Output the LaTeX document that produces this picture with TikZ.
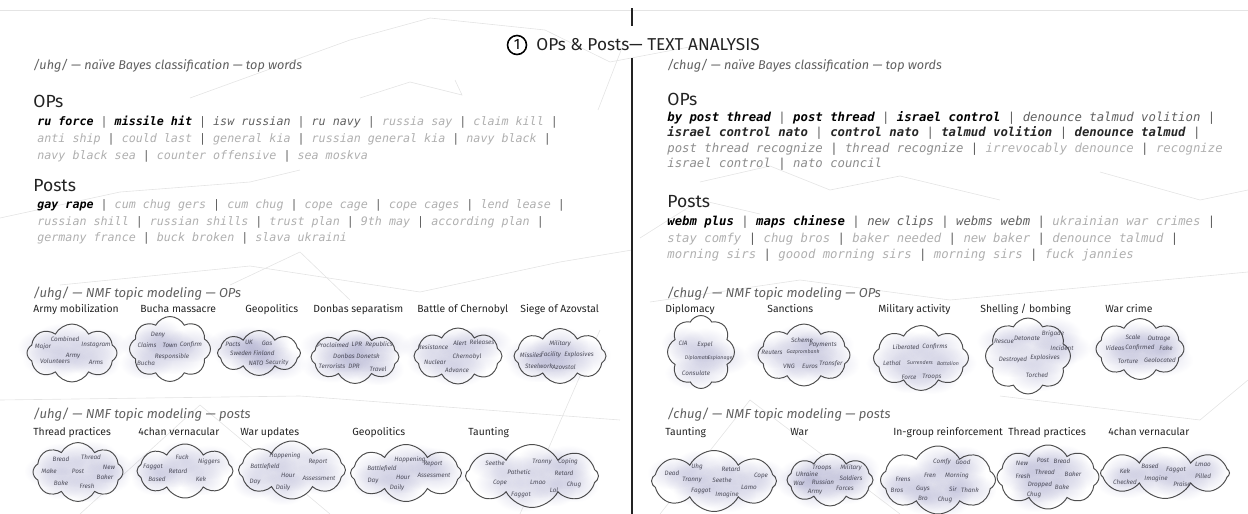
\documentclass[tikz,border=0pt]{standalone}
\usepackage{fontspec}
\setmainfont{Fira Sans}
\setmonofont{DejaVu Sans Mono}
\usetikzlibrary{positioning, shapes.symbols, fadings}

\definecolor{inkdark}{RGB}{35,35,35}
\definecolor{inkmid}{RGB}{95,95,95}
\definecolor{inksoft}{RGB}{140,140,140}
\definecolor{inklight}{RGB}{175,175,175}
\definecolor{wordgray}{RGB}{80,80,92}
\definecolor{glow}{RGB}{210,210,230}
\definecolor{netline}{RGB}{228,228,228}

\tikzfading[name=glowfade, inner color=transparent!30, outer color=transparent!100]

\newcommand{\wsep}{\textcolor{inkmid}{\ |\ }}
\newcommand{\wend}{\textcolor{inkmid}{\ |}}
\newcommand{\wbold}[1]{\textcolor{black}{\bfseries #1}}
\newcommand{\wdark}[1]{\textcolor{black!85}{\bfseries #1}}
\newcommand{\wmid}[1]{\textcolor{inkmid}{#1}}
\newcommand{\wsoft}[1]{\textcolor{inksoft}{#1}}

\begin{document}
\begin{tikzpicture}[x=0.02cm, y=-0.02cm]
	\tikzstyle{net}=[draw=netline, line width=0.35pt]
	\tikzstyle{divider}=[draw=inkdark, line width=0.8pt]
	\tikzstyle{subhead}=[anchor=base west, inner sep=0pt, text=inkmid, font=\itshape\fontsize{7.2}{8}\selectfont]
	\tikzstyle{nmfhead}=[subhead, font=\itshape\fontsize{7.4}{9}\selectfont]
	\tikzstyle{head}=[anchor=base west, inner sep=0pt, text=inkdark, font=\fontsize{10}{12}\selectfont]
	\tikzstyle{wordsl}=[anchor=base west, inner sep=0pt, text=inklight, font=\ttfamily\itshape\fontsize{6.65}{8}\selectfont]
	\tikzstyle{wordsr}=[wordsl, font=\ttfamily\itshape\fontsize{7}{8}\selectfont]
	\tikzstyle{topic}=[anchor=base west, inner sep=0pt, text=inkdark, font=\fontsize{5.9}{7}\selectfont]
	\tikzstyle{topiccloud}=[cloud, cloud puffs=8, cloud puff arc=125, cloud ignores aspect, draw=inkdark!80, line width=0.55pt, fill=white, inner sep=0pt]
	\tikzstyle{word}=[text=wordgray, font=\itshape\fontsize{3.6}{4}\selectfont, inner xsep=10pt, inner ysep=8pt, preaction={fill=glow, path fading=glowfade, blend mode=multiply}]
	\tikzstyle{smallword}=[word, font=\itshape\fontsize{3}{3.5}\selectfont]
	
	\useasboundingbox (0,0) rectangle (1248,514);
	
	% faint network in the background
	\draw[net] (0,10) -- (1248,10);
	\draw[net] (190,98) -- (350,40) -- (430,18) -- (545,30) -- (610,62) -- (700,45);
	\draw[net] (360,98) -- (410,82) -- (462,95) -- (455,80);
	\draw[net] (598,110) -- (625,40);
	\draw[net] (0,218) -- (120,192) -- (250,182) -- (300,170);
	\draw[net] (60,285) -- (250,266) -- (420,292) -- (560,262) -- (632,250);
	\draw[net] (230,285) -- (300,252) -- (350,300);
	\draw[net] (640,238) -- (700,200) -- (760,214);
	\draw[net] (700,182) -- (770,166) -- (830,190) -- (900,176) -- (1000,200);
	\draw[net] (1100,172) -- (1200,200) -- (1248,190);
	\draw[net] (650,302) -- (800,280) -- (950,300) -- (1248,272);
	\draw[net] (0,400) -- (300,396) -- (620,420);
	\draw[net] (80,514) -- (200,405) -- (330,514);
	\draw[net] (600,330) -- (520,514);
	\draw[net] (660,514) -- (750,400) -- (900,514);
	\draw[net] (1000,396) -- (1200,420) -- (1248,380);
	
	% title and divider
	\coordinate (divtop) at (632,8);
	\coordinate (divmid) at (632,26);
	\coordinate (divlow) at (632,58);
	\coordinate (divbot) at (632,514);
	\draw[divider] (divtop) -- (divmid);
	\draw[divider] (divlow) -- (divbot);
	\node[draw, circle, line width=0.9pt, minimum size=0.38cm, inner sep=0pt, font=\fontsize{8.5}{8.5}\selectfont] (num) at (517,45) {1};
	\node[right=5pt of num, inner sep=0pt, text=inkdark, font=\fontsize{9.8}{11}\selectfont] (title) {OPs \& Posts— TEXT ANALYSIS};
	
	% /uhg/ naive Bayes
	\node[subhead] (ubayes) at (33,69) {/uhg/ — naïve Bayes classification — top words};
	\node[head] (uops) at (33,107) {OPs};
	\node[wordsl] (uops1) at (37,125.5) {\wbold{ru force}\wsep\wbold{missile hit}\wsep\wmid{isw russian}\wsep\wmid{ru navy}\wsep russia say\wsep claim kill\wend};
	\node[wordsl] (uops2) at (37,142.5) {anti ship\wsep could last\wsep general kia\wsep russian general kia\wsep navy black\wend};
	\node[wordsl] (uops3) at (37,159.5) {navy black sea\wsep counter offensive\wsep sea moskva};
	\node[head] (uposts) at (33,191) {Posts};
	\node[wordsl] (uposts1) at (37,208.5) {\wbold{gay rape}\wsep cum chug gers\wsep cum chug\wsep cope cage\wsep cope cages\wsep lend lease\wend};
	\node[wordsl] (uposts2) at (37,225.5) {russian shill\wsep russian shills\wsep trust plan\wsep 9th may\wsep according plan\wend};
	\node[wordsl] (uposts3) at (37,241.5) {germany france\wsep buck broken\wsep slava ukraini};
	
	% /chug/ naive Bayes
	\node[subhead] (cbayes) at (667,69) {/chug/ — naïve Bayes classification — top words};
	\node[head] (cops) at (667,105) {OPs};
	\node[wordsr] (cops1) at (667,121.5) {\wbold{by post thread}\wsep\wbold{post thread}\wsep\wbold{israel control}\wsep\wmid{denounce talmud volition}\wend};
	\node[wordsr] (cops2) at (667,136.5) {\wdark{israel control nato}\wsep\wdark{control nato}\wsep\wdark{talmud volition}\wsep\wdark{denounce talmud}\wend};
	\node[wordsr] (cops3) at (667,152.5) {\wsoft{post thread recognize}\wsep\wsoft{thread recognize}\wsep irrevocably denounce\wsep recognize};
	\node[wordsr] (cops4) at (667,167.5) {\wsoft{israel control}\wsep\wsoft{nato council}};
	\node[head] (cposts) at (667,207) {Posts};
	\node[wordsr] (cposts1) at (667,225.5) {\wbold{webm plus}\wsep\wbold{maps chinese}\wsep\wmid{new clips}\wsep\wmid{webms webm}\wsep ukrainian war crimes\wend};
	\node[wordsr] (cposts2) at (667,242) {stay comfy\wsep chug bros\wsep baker needed\wsep new baker\wsep denounce talmud\wend};
	\node[wordsr] (cposts3) at (667,258.5) {morning sirs\wsep goood morning sirs\wsep morning sirs\wsep fuck jannies};
	
	% /uhg/ NMF OPs
	\node[nmfhead] (unmfo) at (33,297) {/uhg/ — NMF topic modeling — OPs};
	\node[topic] (uo1t) at (33,312.5) {Army mobilization};
	\node[topic] (uo2t) at (140,312.5) {Bucha massacre};
	\node[topic] (uo3t) at (245,312.5) {Geopolitics};
	\node[topic] (uo4t) at (313,312.5) {Donbas separatism};
	\node[topic] (uo5t) at (417,312.5) {Battle of Chernobyl};
	\node[topic] (uo6t) at (520,312.5) {Siege of Azovstal};
	\node[topiccloud, minimum width=1.8cm, minimum height=1.16cm] (uo1) at (72,353) {};
	\node[word] (uo1a) at (65,339) {Combined}; \node[word] (uo1b) at (96,345) {Instagram}; \node[word] (uo1c) at (43,347) {Major};
	\node[word] (uo1d) at (73,356) {Army}; \node[word] (uo1e) at (55,361) {Volunteers}; \node[word] (uo1f) at (96,362) {Arms};
	\node[topiccloud, minimum width=1.62cm, minimum height=1.3cm] (uo2) at (170,349) {};
	\node[word] (uo2a) at (158,335) {Deny}; \node[word] (uo2b) at (147,345) {Claims}; \node[word] (uo2c) at (170,345) {Town};
	\node[word] (uo2d) at (191,345) {Confirm}; \node[word] (uo2e) at (172,357) {Responsible}; \node[word] (uo2f) at (146,363) {Bucha};
	\node[topiccloud, minimum width=1.66cm, minimum height=0.9cm] (uo3) at (259,353) {};
	\node[word] (uo3a) at (233,344) {Pacts}; \node[word] (uo3b) at (249,342) {UK}; \node[word] (uo3c) at (267,343) {Gas};
	\node[word] (uo3d) at (241,353) {Sweden}; \node[word] (uo3e) at (264,353) {Finland}; \node[word] (uo3f) at (256,363) {NATO}; \node[word] (uo3g) at (277,363) {Security};
	\node[topiccloud, minimum width=1.76cm, minimum height=1.06cm] (uo4) at (355,357) {};
	\node[word] (uo4a) at (333,345) {Proclaimed}; \node[word] (uo4b) at (357,344) {LPR}; \node[word] (uo4c) at (379,345) {Republics}; \node[word] (uo4d) at (344,356) {Donbas};
	\node[word] (uo4e) at (368,356) {Donetsk}; \node[word] (uo4f) at (332,366) {Terrorists}; \node[word] (uo4g) at (354,366) {DPR}; \node[word] (uo4h) at (378,369) {Travel};
	\node[topiccloud, minimum width=1.76cm, minimum height=1.12cm] (uo5) at (458,356) {};
	\node[word] (uo5a) at (433,347) {Resistance}; \node[word] (uo5b) at (460,343) {Alert}; \node[word] (uo5c) at (482,342) {Releases};
	\node[word] (uo5d) at (467,357) {Chernobyl}; \node[word] (uo5e) at (435,362) {Nuclear}; \node[word] (uo5f) at (457,370) {Advance};
	\node[topiccloud, minimum width=1.84cm, minimum height=1.1cm] (uo6) at (560,356) {};
	\node[word] (uo6a) at (560,344) {Military}; \node[word] (uo6b) at (531,355) {Missiles}; \node[word] (uo6c) at (551,355) {Facility};
	\node[word] (uo6d) at (579,355) {Explosives}; \node[word] (uo6e) at (539,366) {Steelwork}; \node[word] (uo6f) at (564,367) {Azovstal};
	
	% /chug/ NMF OPs
	\node[nmfhead] (cnmfo) at (667,297) {/chug/ — NMF topic modeling — OPs};
	\node[topic] (co1t) at (665,312.5) {Diplomacy};
	\node[topic] (co2t) at (767,312.5) {Sanctions};
	\node[topic] (co3t) at (878,312.5) {Military activity};
	\node[topic] (co4t) at (980,312.5) {Shelling / bombing};
	\node[topic] (co5t) at (1105,312.5) {War crime};
	\node[topiccloud, minimum width=1.34cm, minimum height=1.46cm] (co1) at (701,352) {};
	\node[word] (co1a) at (683,343) {CIA}; \node[word] (co1b) at (705,345) {Expel}; \node[smallword] (co1c) at (697,358) {Diplomats};
	\node[smallword] (co1d) at (720,358) {Espionage}; \node[word] (co1e) at (696,373) {Consulate};
	\node[topiccloud, minimum width=1.84cm, minimum height=1.24cm] (co2) at (804,355) {};
	\node[word] (co2a) at (802,340) {Scheme}; \node[word] (co2b) at (823,345) {Payments}; \node[word] (co2c) at (772,352) {Reuters}; \node[smallword] (co2d) at (803,352) {Gazprombank};
	\node[word] (co2e) at (831,364) {Transfer}; \node[word] (co2f) at (789,366) {VNG}; \node[word] (co2g) at (810,366) {Euros};
	\node[topiccloud, minimum width=1.9cm, minimum height=1.3cm] (co3) at (921,358) {};
	\node[word] (co3a) at (906,347) {Liberated}; \node[word] (co3b) at (935,347) {Confirms}; \node[word] (co3c) at (892,363) {Lethal}; \node[smallword] (co3d) at (920,363) {Surrenders};
	\node[smallword] (co3e) at (948,363) {Battalion}; \node[word] (co3f) at (909,377) {Force}; \node[word] (co3g) at (932,377) {Troops};
	\node[topiccloud, minimum width=1.7cm, minimum height=1.52cm] (co4) at (1028,356) {};
	\node[word] (co4a) at (1004,341) {Rescue}; \node[word] (co4b) at (1027,338) {Detonate}; \node[word] (co4c) at (1053,334) {Brigade}; \node[word] (co4d) at (1062,348) {Incident};
	\node[word] (co4e) at (1045,358) {Explosives}; \node[word] (co4f) at (1013,360) {Destroyed}; \node[word] (co4g) at (1037,375) {Torched};
	\node[topiccloud, minimum width=1.76cm, minimum height=1.22cm] (co5) at (1140,349) {};
	\node[word] (co5a) at (1133,337) {Scale}; \node[word] (co5b) at (1159,339) {Outrage}; \node[word] (co5c) at (1115,348) {Videos}; \node[word] (co5d) at (1140,348) {Confirmed};
	\node[word] (co5e) at (1166,348) {Fake}; \node[word] (co5f) at (1128,361) {Torture}; \node[word] (co5g) at (1160,360) {Geolocated};
	
	% /uhg/ NMF posts
	\node[nmfhead] (unmfp) at (33,418) {/uhg/ — NMF topic modeling — posts};
	\node[topic] (up1t) at (33,435.5) {Thread practices};
	\node[topic] (up2t) at (138,435.5) {4chan vernacular};
	\node[topic] (up3t) at (240,435.5) {War updates};
	\node[topic] (up4t) at (352,435.5) {Geopolitics};
	\node[topic] (up5t) at (468,435.5) {Taunting};
	\node[topiccloud, minimum width=1.8cm, minimum height=1.18cm] (up1) at (78,472) {};
	\node[word] (up1a) at (61,459) {Bread}; \node[word] (up1b) at (91,457) {Thread}; \node[word] (up1c) at (49,471) {Make}; \node[word] (up1d) at (78,471) {Post};
	\node[word] (up1e) at (109,467) {New}; \node[word] (up1f) at (105,477) {Baker}; \node[word] (up1g) at (61,483) {Bake}; \node[word] (up1h) at (87,486) {Fresh};
	\node[topiccloud, minimum width=1.92cm, minimum height=1.08cm] (up2) at (185,471) {};
	\node[word] (up2a) at (182,457) {Fuck}; \node[word] (up2b) at (153,467) {Faggot}; \node[word] (up2c) at (178,471) {Retard};
	\node[word] (up2d) at (209,462) {Niggers}; \node[word] (up2e) at (157,479) {Based}; \node[word] (up2f) at (201,479) {Kek};
	\node[topiccloud, minimum width=2.14cm, minimum height=1.16cm] (up3) at (292,470) {};
	\node[word] (up3a) at (285,456) {Happening}; \node[word] (up3b) at (318,462) {Report}; \node[word] (up3c) at (265,467) {Battlefield}; \node[word] (up3d) at (288,475) {Hour};
	\node[word] (up3e) at (319,478) {Assessment}; \node[word] (up3f) at (255,482) {Day}; \node[word] (up3g) at (283,488) {Daily};
	\node[topiccloud, minimum width=2.22cm, minimum height=1.14cm] (up4) at (406,473) {};
	\node[word] (up4a) at (410,460) {Happening}; \node[word] (up4b) at (433,464) {Report}; \node[word] (up4c) at (382,469) {Battlefield}; \node[word] (up4d) at (403,477) {Hour};
	\node[word] (up4e) at (434,475) {Assessment}; \node[word] (up4f) at (373,481) {Day}; \node[word] (up4g) at (397,488) {Daily};
	\node[topiccloud, minimum width=2.66cm, minimum height=1.26cm] (up5) at (532,476) {};
	\node[word] (up5a) at (495,463) {Seethe}; \node[word] (up5b) at (542,462) {Tranny}; \node[word] (up5c) at (568,462) {Coping}; \node[word] (up5d) at (519,472) {Pathetic}; \node[word] (up5e) at (564,473) {Retard};
	\node[word] (up5f) at (500,483) {Cope}; \node[word] (up5g) at (538,482) {Lmao}; \node[word] (up5h) at (574,485) {Chug}; \node[word] (up5i) at (554,490) {Lol}; \node[word] (up5j) at (521,495) {Faggot};
	
	% /chug/ NMF posts
	\node[nmfhead] (cnmfp) at (667,418) {/chug/ — NMF topic modeling — posts};
	\node[topic] (cp1t) at (665,435.5) {Taunting};
	\node[topic] (cp2t) at (790,435.5) {War};
	\node[topic] (cp3t) at (893,435.5) {In-group reinforcement};
	\node[topic] (cp4t) at (1008,435.5) {Thread practices};
	\node[topic] (cp5t) at (1108,435.5) {4chan vernacular};
	\node[topiccloud, minimum width=2.5cm, minimum height=1.22cm] (cp1) at (714,481) {};
	\node[word] (cp1a) at (672,473) {Dead}; \node[word] (cp1b) at (697,467) {Uhg}; \node[word] (cp1c) at (731,469) {Retard}; \node[word] (cp1d) at (761,476) {Cope}; \node[word] (cp1e) at (692,480) {Tranny};
	\node[word] (cp1f) at (722,480) {Seethe}; \node[word] (cp1g) at (749,487) {Lamo}; \node[word] (cp1h) at (701,491) {Faggot}; \node[word] (cp1i) at (727,495) {Imagine};
	\node[topiccloud, minimum width=1.72cm, minimum height=1.04cm] (cp2) at (830,480) {};
	\node[word] (cp2a) at (822,468) {Troops}; \node[word] (cp2b) at (851,468) {Military}; \node[word] (cp2c) at (807,474) {Ukraine}; \node[word] (cp2d) at (851,478) {Soldiers};
	\node[word] (cp2e) at (799,483) {War}; \node[word] (cp2f) at (823,482) {Russian}; \node[word] (cp2g) at (845,488) {Forces}; \node[word] (cp2h) at (815,492) {Army};
	\node[topiccloud, minimum width=2.3cm, minimum height=1.36cm] (cp3) at (938,480) {};
	\node[word] (cp3a) at (903,479) {Frens}; \node[word] (cp3b) at (930,475) {Fren}; \node[word] (cp3c) at (942,462) {Comfy}; \node[word] (cp3d) at (963,462) {Good}; \node[word] (cp3e) at (897,490) {Bros}; \node[word] (cp3f) at (923,489) {Guys};
	\node[word] (cp3g) at (957,476) {Morning}; \node[word] (cp3h) at (923,498) {Bro}; \node[word] (cp3i) at (953,489) {Sir}; \node[word] (cp3j) at (970,490) {Thank}; \node[word] (cp3k) at (945,500) {Chug};
	\node[topiccloud, minimum width=2.04cm, minimum height=1.28cm] (cp4) at (1048,477) {};
	\node[word] (cp4a) at (1022,463) {New}; \node[word] (cp4b) at (1043,460) {Post}; \node[word] (cp4c) at (1062,461) {Bread}; \node[word] (cp4d) at (1023,476) {Fresh}; \node[word] (cp4e) at (1045,472) {Thread};
	\node[word] (cp4f) at (1073,474) {Baker}; \node[word] (cp4g) at (1040,485) {Dropped}; \node[word] (cp4h) at (1062,487) {Bake}; \node[word] (cp4i) at (1034,495) {Chug};
	\node[topiccloud, minimum width=2.58cm, minimum height=1.02cm] (cp5) at (1165,473) {};
	\node[word] (cp5a) at (1125,471) {Kek}; \node[word] (cp5b) at (1150,466) {Based}; \node[word] (cp5c) at (1176,470) {Faggot}; \node[word] (cp5d) at (1203,464) {Lmao};
	\node[word] (cp5e) at (1125,482) {Checked}; \node[word] (cp5f) at (1156,479) {Imagine}; \node[word] (cp5g) at (1182,484) {Praise}; \node[word] (cp5h) at (1203,476) {Pilled};
	
\end{tikzpicture}
\end{document}
